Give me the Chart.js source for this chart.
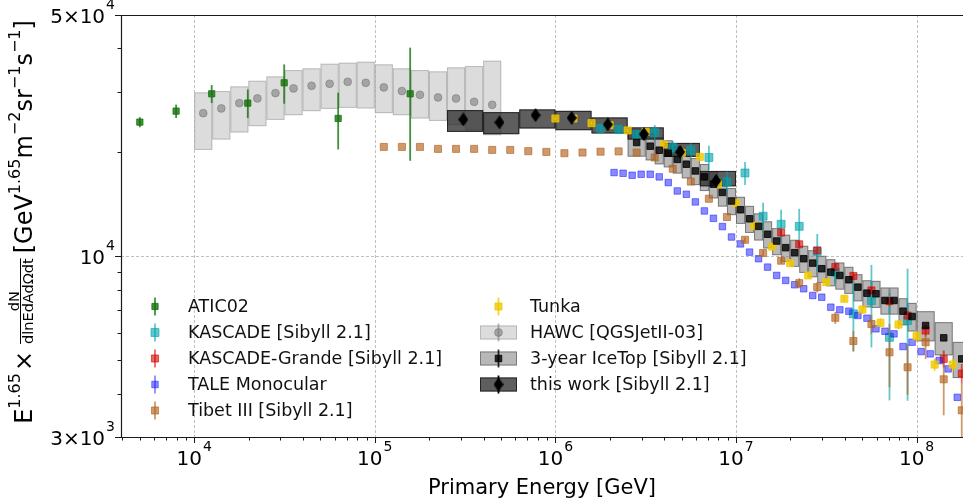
<!DOCTYPE html>
<html>
<head>
<meta charset="utf-8">
<script src="https://cdn.jsdelivr.net/npm/chart.js@4.4.1/dist/chart.umd.min.js"></script>
<style>
    html, body { margin: 0; padding: 0; background: #fff; }
    #wrap { width: 963px; height: 500px; position: relative; }
</style>
</head>
<body>
<div id="wrap"><canvas id="spectrum"></canvas></div>
<script>
// Energies in GeV, flux values are E^1.65 x dN/dlnEdAdOdt
const aticE = [5000, 7940, 12500, 19800, 31500, 62700, 157000];
const aticY = [24480, 26340, 29570, 27790, 31820, 25090, 29570];
const aticErr = [830, 1170, 1770, 2640, 4140, 4690, 10650];

const kascadeE = [1.778e6, 2.239e6, 2.818e6, 3.548e6, 4.467e6, 5.623e6, 7.079e6, 8.913e6, 1.122e7, 1.413e7, 1.778e7, 2.239e7, 2.818e7, 3.548e7, 4.467e7, 5.623e7, 7.079e7, 8.913e7];
const kascadeY = [23470, 23310, 22550, 22850, 20670, 20300, 19340, 16430, 17440, 13070, 12390, 12220, 10340, 8990, 6820, 7450, 5830, 6520];
const kascadeErr = [470, 630, 610, 1170, 850, 970, 1570, 1190, 1330, 1250, 1260, 1515, 1280, 620, 1500, 2000, 2000, 2700];

const grandeE = [1.778e7, 2.239e7, 2.818e7, 3.548e7, 4.467e7, 5.623e7, 7.079e7, 8.913e7, 1.122e8, 1.413e8, 1.778e8];
const grandeY = [11720, 10840, 10410, 9320, 8780, 7970, 7420, 6740, 6100, 5050, 4580];
const grandeErr = [200, 200, 200, 200, 200, 200, 220, 220, 240, 280, 300];

const taleE = [2.113e6, 2.371e6, 2.661e6, 2.985e6, 3.350e6, 3.758e6, 4.217e6, 4.732e6, 5.309e6, 5.957e6, 6.683e6, 7.499e6, 8.414e6, 9.441e6,
    1.059e7, 1.189e7, 1.334e7, 1.496e7, 1.679e7, 1.884e7, 2.113e7, 2.371e7, 2.661e7, 2.985e7, 3.350e7, 3.758e7, 4.217e7, 4.732e7,
    5.309e7, 5.957e7, 6.683e7, 7.499e7, 8.414e7, 9.441e7, 1.059e8, 1.189e8, 1.334e8, 1.496e8, 1.679e8];
const taleY = [17490, 17410, 17180, 17290, 17290, 16990, 16360, 15470, 15130, 14380, 13540, 12890, 12200, 11380,
    10870, 10290, 9848, 9311, 8808, 8519, 8277, 8059, 7706, 7619, 7128, 7005, 6940, 6744,
    6623, 6170, 6072, 5967, 5483, 5643, 5303, 5222, 4993, 4724, 3908];

const tibetE = [1.122e5, 1.413e5, 1.778e5, 2.239e5, 2.818e5, 3.548e5, 4.467e5, 5.623e5, 7.079e5, 8.913e5,
    1.122e6, 1.413e6, 1.778e6, 2.239e6, 2.818e6, 3.548e6, 4.467e6, 5.623e6, 7.079e6, 8.913e6,
    1.122e7, 1.413e7, 1.778e7, 2.239e7, 2.818e7, 3.548e7, 4.467e7, 5.623e7, 7.079e7, 8.913e7,
    1.122e8, 1.413e8, 1.778e8];
const tibetY = [20750, 20750, 20750, 20480, 20480, 20480, 20340, 20340, 20170, 20070,
    19900, 19990, 20100, 20140, 19990, 19340, 17940, 16470, 14690, 13000,
    11170, 10230, 9717, 8367, 8147, 6641, 5688, 6372, 5278, 4775,
    5643, 4407, 3584];
const tibetErr = [0, 0, 0, 0, 0, 0, 0, 0, 0, 0,
    0, 0, 0, 0, 0, 0, 0, 0, 0, 0,
    200, 200, 200, 280, 280, 270, 390, 400, 1100, 800,
    600, 940, 700];

const tunkaE = [1.0e6, 1.259e6, 1.585e6, 1.995e6, 2.512e6, 3.162e6, 3.981e6, 5.012e6, 6.310e6, 7.943e6,
    1.0e7, 1.259e7, 1.585e7, 1.995e7, 2.512e7, 3.162e7, 3.981e7, 5.012e7, 6.310e7, 7.943e7,
    1.0e8, 1.259e8, 1.585e8];
const tunkaY = [25080, 25080, 24310, 23990, 23160, 22940, 21090, 19940, 19410, 16180,
    14280, 12260, 10670, 9563, 8808, 8423, 7540, 7019, 6423, 6351,
    5873, 4862, 4862];
const tunkaErr = [250, 250, 250, 250, 250, 250, 250, 250, 250, 250,
    250, 220, 200, 200, 180, 180, 180, 200, 200, 200,
    220, 200, 200];

const hawcEdges = [1.0e4, 1.259e4, 1.585e4, 1.995e4, 2.512e4, 3.162e4, 3.981e4, 5.012e4, 6.310e4, 7.943e4,
    1.0e5, 1.259e5, 1.585e5, 1.995e5, 2.512e5, 3.162e5, 3.981e5, 5.012e5];
const hawcE = [1.122e4, 1.413e4, 1.778e4, 2.239e4, 2.818e4, 3.548e4, 4.467e4, 5.623e4, 7.079e4,
    8.913e4, 1.122e5, 1.413e5, 1.778e5, 2.239e5, 2.818e5, 3.548e5, 4.467e5];
const hawcY = [25990, 26820, 27790, 28670, 29710, 30650, 31190, 31610, 32030, 31820, 30860, 30110, 29370, 28860, 28670, 28030, 27480];
const hawcHi = [29840, 30110, 31060, 32250, 33200, 34630, 35020, 36130, 36370, 36610, 35970, 35020, 34630, 34330, 35260, 35570, 36860];
const hawcLo = [20340, 21800, 22850, 23830, 24850, 25640, 26340, 26740, 26930, 26820, 25990, 25640, 25080, 24680, 23990, 23200, 22440];

const icetopEdges = [2.512e6, 3.162e6, 3.548e6, 3.981e6, 4.467e6, 5.012e6, 5.623e6, 6.310e6, 7.079e6, 7.943e6, 8.913e6,
    1.0e7, 1.122e7, 1.259e7, 1.413e7, 1.585e7, 1.778e7, 1.995e7, 2.239e7, 2.512e7, 2.818e7, 3.162e7, 3.548e7, 3.981e7,
    4.467e7, 5.012e7, 5.623e7, 6.310e7, 7.079e7, 7.943e7, 8.913e7, 1.0e8, 1.259e8, 1.585e8, 1.995e8];
const icetopE = [2.818e6, 3.350e6, 3.758e6, 4.217e6, 4.732e6, 5.309e6, 5.957e6, 6.683e6, 7.499e6, 8.414e6, 9.441e6,
    1.059e7, 1.189e7, 1.334e7, 1.496e7, 1.679e7, 1.884e7, 2.113e7, 2.371e7, 2.661e7, 2.985e7, 3.350e7, 3.758e7,
    4.217e7, 4.732e7, 5.309e7, 5.957e7, 6.683e7, 7.499e7, 8.414e7, 9.441e7, 1.122e8, 1.413e8, 1.778e8];
const icetopY = [21370, 20850, 20300, 19900, 19090, 18490, 17680, 16990, 16180, 15320, 14470,
    13650, 12850, 12220, 11590, 11080, 10600, 10250, 9848, 9563, 9212, 9005, 8808,
    8559, 8147, 7826, 7795, 7455, 7455, 6940, 6699, 6308, 5811, 5050];
// relative systematic uncertainty (box half height)
const icetopSys = [0.09, 0.09, 0.09, 0.09, 0.09, 0.09, 0.09, 0.09, 0.09, 0.09, 0.09,
    0.09, 0.09, 0.09, 0.09, 0.09, 0.09, 0.09, 0.09, 0.09, 0.09, 0.09, 0.09,
    0.09, 0.09, 0.09, 0.09, 0.09, 0.09, 0.09, 0.095, 0.10, 0.11, 0.12];

const workEdges = [2.512e5, 3.981e5, 6.310e5, 1.0e6, 1.585e6, 2.512e6, 3.981e6, 6.310e6, 1.0e7];
const workE = [3.09e5, 4.90e5, 7.76e5, 1.23e6, 1.95e6, 3.09e6, 4.90e6, 7.76e6];
const workY = [24920, 24430, 25640, 25180, 24100, 22590, 20070, 16540];
const workErr = [400, 400, 400, 400, 400, 400, 350, 300];
const workLo = [22940, 22590, 23470, 23200, 22700, 21800, 19410, 15960];
const workHi = [26520, 26160, 26640, 26390, 25250, 23630, 21310, 17680];

// axis ticks and labels
const xTicks = [1e4, 1e5, 1e6, 1e7, 1e8];
const xTickBase = ['10', '10', '10', '10', '10'];
const xTickExp = ['4', '5', '6', '7', '8'];
const yTicks = [5e4, 1e4, 3e3];
const yTickBase = ['5×10', '10', '3×10'];
const yTickExp = ['4', '4', '3'];
const xGrid = [1e4, 1e5, 1e6, 1e7, 1e8];
const yGrid = [1e4];

const FONT = '"DejaVu Sans", sans-serif';

// thin diamond marker like matplotlib 'd'
function makeDiamond(w, h, color) {
    const c = document.createElement('canvas');
    c.width = w; c.height = h;
    const g = c.getContext('2d');
    g.fillStyle = color;
    g.beginPath();
    g.moveTo(w / 2, 0); g.lineTo(w, h / 2); g.lineTo(w / 2, h); g.lineTo(0, h / 2);
    g.closePath(); g.fill();
    return c;
}

const series = [
    { label: 'ATIC02', E: aticE, Y: aticY, err: aticErr, style: 'rect', r: 4.4, color: 'rgba(20,115,10,0.8)' },
    { label: 'KASCADE [Sibyll 2.1]', E: kascadeE, Y: kascadeY, err: kascadeErr, style: 'rect', r: 5.6, color: 'rgba(0,165,175,0.62)' },
    { label: 'KASCADE-Grande [Sibyll 2.1]', E: grandeE, Y: grandeY, err: grandeErr, style: 'rect', r: 5, color: 'rgba(215,0,0,0.6)' },
    { label: 'TALE Monocular', E: taleE, Y: taleY, err: null, style: 'rect', r: 4.6, color: 'rgba(0,0,255,0.46)' },
    { label: 'Tibet III [Sibyll 2.1]', E: tibetE, Y: tibetY, err: tibetErr, style: 'rect', r: 5, color: 'rgba(180,100,30,0.65)' },
    { label: 'Tunka', E: tunkaE, Y: tunkaY, err: tunkaErr, style: 'rect', r: 5, color: 'rgba(240,200,0,0.8)' },
    { label: 'HAWC [QGSJetII-03]', E: hawcE, Y: hawcY, err: null, style: 'circle', r: 3.9, color: 'rgba(110,110,110,0.5)',
      box: { edges: hawcEdges, lo: hawcLo, hi: hawcHi, fill: 'rgba(195,195,195,0.58)', stroke: 'rgba(160,160,160,0.6)' } },
    { label: '3-year IceTop [Sibyll 2.1]', E: icetopE, Y: icetopY, err: null, style: 'rect', r: 4.6, color: 'rgba(0,0,0,0.8)',
      box: { edges: icetopEdges, lo: icetopY.map((v, i) => v * (1 - icetopSys[i])), hi: icetopY.map((v, i) => v * (1 + icetopSys[i])),
             fill: 'rgba(125,125,125,0.55)', stroke: 'rgba(70,70,70,0.55)' } },
    { label: 'this work [Sibyll 2.1]', E: workE, Y: workY, err: workErr, style: makeDiamond(10, 14, '#000'), r: 5, color: '#000',
      box: { edges: workEdges, lo: workLo, hi: workHi, fill: 'rgba(40,40,40,0.75)', stroke: 'rgba(20,20,20,0.8)' } }
];

const datasets = series.map((s, i) => ({
    label: s.label,
    data: s.E.map((e, k) => ({ x: e, y: s.Y[k] })),
    showLine: false,
    pointStyle: s.style,
    pointRadius: s.r,
    pointHoverRadius: s.r,
    pointBackgroundColor: s.color,
    pointBorderColor: s.color,
    pointBorderWidth: typeof s.style === 'string' ? 1 : 0,
    order: series.length - i,
    clip: 0
}));

// text with a raised exponent, y is the baseline of the main text
function powText(ctx, base, exp, x, y, align, size) {
    const supSize = Math.round(size * 0.7);
    ctx.font = `${size}px ${FONT}`;
    const wb = ctx.measureText(base).width;
    ctx.font = `${supSize}px ${FONT}`;
    const we = ctx.measureText(exp).width;
    const total = wb + 1 + we;
    const x0 = align === 'center' ? x - total / 2 : x - total;
    ctx.textAlign = 'left';
    ctx.textBaseline = 'alphabetic';
    ctx.font = `${size}px ${FONT}`;
    ctx.fillText(base, x0, y);
    ctx.font = `${supSize}px ${FONT}`;
    ctx.fillText(exp, x0 + wb + 1, y - size * 0.7);
}

function drawYTitle(ctx, cx, cy) {
    const main = 24, sup = 16, frac = 14.5, raise = 12;
    const parts = [
        { t: 'E', f: main }, { t: '1.65', f: sup, up: raise }, { t: '×', f: main, pad: 2 },
        { num: 'dN', den: 'dlnEdAdΩdt', f: frac, pad: 5 },
        { t: '[GeV', f: main }, { t: '1.65', f: sup, up: raise }, { t: 'm', f: main }, { t: '−2', f: sup, up: raise },
        { t: 'sr', f: main }, { t: '−1', f: sup, up: raise }, { t: 's', f: main }, { t: '−1', f: sup, up: raise }, { t: ']', f: main }
    ];
    let total = 0;
    parts.forEach(p => {
        ctx.font = `${p.f}px ${FONT}`;
        p.w = p.num ? Math.max(ctx.measureText(p.num).width, ctx.measureText(p.den).width) : ctx.measureText(p.t).width;
        total += p.w + 2 * (p.pad || 0);
    });
    ctx.save();
    ctx.translate(cx, cy);
    ctx.rotate(-Math.PI / 2);
    ctx.fillStyle = '#000';
    ctx.textBaseline = 'alphabetic';
    let pos = -total / 2;
    parts.forEach(p => {
        pos += p.pad || 0;
        ctx.font = `${p.f}px ${FONT}`;
        if (p.num) {
            ctx.textAlign = 'center';
            ctx.fillText(p.num, pos + p.w / 2, -13.5);
            ctx.fillText(p.den, pos + p.w / 2, 0.5);
            ctx.fillRect(pos, -12, p.w, 1);
        } else {
            ctx.textAlign = 'left';
            ctx.fillText(p.t, pos, -(p.up || 0));
        }
        pos += p.w + (p.pad || 0);
    });
    ctx.restore();
}

const decor = {
    id: 'decor',
    beforeDatasetsDraw(chart) {
        const { ctx, chartArea: a, scales: { x, y } } = chart;
        ctx.save();
        // dashed grid
        ctx.strokeStyle = '#b0b0b0';
        ctx.lineWidth = 0.8;
        ctx.setLineDash([3, 2]);
        xGrid.forEach(v => {
            const px = Math.round(x.getPixelForValue(v)) + 0.5;
            ctx.beginPath(); ctx.moveTo(px, a.top); ctx.lineTo(px, a.bottom); ctx.stroke();
        });
        yGrid.forEach(v => {
            const py = Math.round(y.getPixelForValue(v)) + 0.5;
            ctx.beginPath(); ctx.moveTo(a.left, py); ctx.lineTo(a.right, py); ctx.stroke();
        });
        ctx.setLineDash([]);
        ctx.beginPath();
        ctx.rect(a.left, a.top, a.right - a.left, a.bottom - a.top);
        ctx.clip();
        // systematic boxes
        series.forEach(s => {
            if (!s.box) return;
            const b = s.box;
            ctx.fillStyle = b.fill;
            ctx.strokeStyle = b.stroke;
            ctx.lineWidth = 1;
            b.lo.forEach((lo, i) => {
                const x0 = x.getPixelForValue(b.edges[i]);
                const x1 = x.getPixelForValue(b.edges[i + 1]);
                const y0 = y.getPixelForValue(b.hi[i]);
                const y1 = y.getPixelForValue(lo);
                ctx.fillRect(x0, y0, x1 - x0, y1 - y0);
                ctx.strokeRect(x0 + 0.5, y0 + 0.5, x1 - x0 - 1, y1 - y0 - 1);
            });
        });
        // error bars
        series.forEach(s => {
            if (!s.err) return;
            ctx.strokeStyle = s.color;
            ctx.lineWidth = 1.8;
            s.err.forEach((e, i) => {
                if (!e) return;
                const px = x.getPixelForValue(s.E[i]);
                ctx.beginPath();
                ctx.moveTo(px, y.getPixelForValue(s.Y[i] + e));
                ctx.lineTo(px, y.getPixelForValue(s.Y[i] - e));
                ctx.stroke();
            });
        });
        ctx.restore();
    },
    afterDatasetsDraw(chart) {
        const { ctx, chartArea: a, scales: { x, y } } = chart;
        ctx.save();
        ctx.strokeStyle = '#1a1a1a';
        ctx.fillStyle = '#000';
        // frame (right side is cut off in the figure)
        ctx.lineWidth = 1.2;
        ctx.beginPath();
        ctx.moveTo(a.right, a.top + 0.5); ctx.lineTo(a.left + 0.5, a.top + 0.5);
        ctx.lineTo(a.left + 0.5, a.bottom + 0.5); ctx.lineTo(a.right, a.bottom + 0.5);
        ctx.stroke();
        // ticks
        ctx.lineWidth = 1;
        for (let d = 3; d <= 8; d++) {
            for (let m = 1; m <= 9; m++) {
                const v = m * Math.pow(10, d);
                if (v < x.min || v > x.max) continue;
                const px = Math.round(x.getPixelForValue(v)) + 0.5;
                const len = m === 1 ? 6 : 3.5;
                ctx.beginPath(); ctx.moveTo(px, a.bottom); ctx.lineTo(px, a.bottom + len); ctx.stroke();
            }
        }
        for (let d = 3; d <= 4; d++) {
            for (let m = 1; m <= 9; m++) {
                const v = m * Math.pow(10, d);
                if (v < y.min || v > y.max) continue;
                const py = Math.round(y.getPixelForValue(v)) + 0.5;
                const len = yTicks.includes(v) ? 6 : 3.5;
                ctx.beginPath(); ctx.moveTo(a.left, py); ctx.lineTo(a.left - len, py); ctx.stroke();
            }
        }
        // tick labels
        xTicks.forEach((v, i) => {
            powText(ctx, xTickBase[i], xTickExp[i], x.getPixelForValue(v), 465, 'center', 20);
        });
        yTicks.forEach((v, i) => {
            powText(ctx, yTickBase[i], yTickExp[i], 115, y.getPixelForValue(v) + 7.5, 'right', 20);
        });
        // axis titles
        ctx.font = `21px ${FONT}`;
        ctx.textAlign = 'center';
        ctx.textBaseline = 'alphabetic';
        ctx.fillText('Primary Energy [GeV]', (a.left + a.right) / 2, 494);
        drawYTitle(ctx, 32, 222);
        // legend, two columns
        series.forEach((s, i) => {
            const col = i < 5 ? 0 : 1;
            const row = col === 0 ? i : i - 5;
            const cy = 306.5 + row * 26;
            const mx = col === 0 ? 155 : 498.5;
            const tx = col === 0 ? 188 : 530;
            if (s.box) {
                ctx.fillStyle = s.box.fill;
                ctx.strokeStyle = s.box.stroke;
                ctx.fillRect(480, cy - 7, 37, 14);
                ctx.strokeRect(480.5, cy - 6.5, 36, 13);
            }
            ctx.strokeStyle = s.color;
            ctx.lineWidth = 1.8;
            ctx.beginPath(); ctx.moveTo(mx, cy - 9); ctx.lineTo(mx, cy + 9); ctx.stroke();
            ctx.fillStyle = s.color;
            ctx.strokeStyle = s.color;
            ctx.lineWidth = 1;
            Chart.helpers.drawPoint(ctx, { pointStyle: s.style, radius: s.r, rotation: 0, borderWidth: typeof s.style === 'string' ? 1 : 0 }, mx, cy);
            ctx.fillStyle = '#111';
            ctx.font = `17.5px ${FONT}`;
            ctx.textAlign = 'left';
            ctx.textBaseline = 'middle';
            ctx.fillText(s.label, tx, cy + 1);
        });
        ctx.restore();
    }
};

new Chart(document.getElementById('spectrum'), {
    type: 'scatter',
    data: { datasets: datasets },
    options: {
        responsive: true,
        maintainAspectRatio: false,
        animation: false,
        devicePixelRatio: 1,
        layout: { autoPadding: false, padding: { top: 15, right: 0, bottom: 0, left: 0 } },
        plugins: { legend: { display: false }, tooltip: { enabled: false } },
        scales: {
            x: {
                type: 'logarithmic', min: 3933, max: 1.807e8, bounds: 'data',
                grid: { display: false }, border: { display: false }, ticks: { display: false },
                afterFit: s => { s.height = 63; s.paddingLeft = 0; s.paddingRight = 0; }
            },
            y: {
                type: 'logarithmic', min: 3000, max: 50000, bounds: 'data',
                grid: { display: false }, border: { display: false }, ticks: { display: false },
                afterFit: s => { s.width = 121; s.paddingTop = 0; s.paddingBottom = 0; }
            }
        }
    },
    plugins: [decor]
});
</script>
</body>
</html>
